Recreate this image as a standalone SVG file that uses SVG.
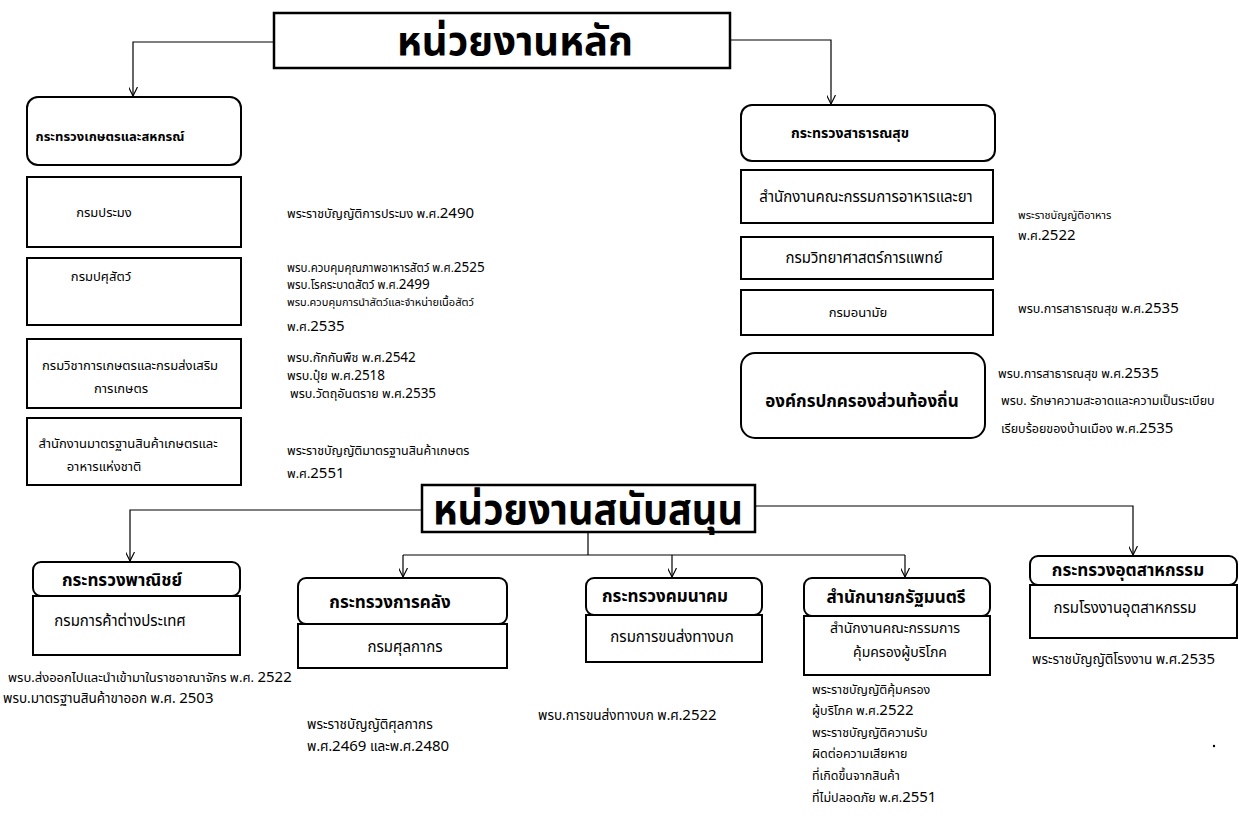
<svg xmlns="http://www.w3.org/2000/svg" width="1239" height="820" viewBox="0 0 1239 820">
<style>
text{font-family:"Noto Sans Thai","Noto Sans","DejaVu Sans",sans-serif;fill:#000}
.box{fill:#fff;stroke:#000;stroke-width:2}
.tb{fill:#fff;stroke:#000;stroke-width:2.5}
.ttl{font-size:42px;font-weight:bold;text-anchor:middle}
.hd{font-size:13px;font-weight:bold;text-anchor:middle}
.hb{font-size:17px;font-weight:bold;text-anchor:middle}
.t{font-size:13px;text-anchor:middle}
.tl{font-size:15px;text-anchor:middle}
.law{font-size:12.5px}
.n{font-size:15px}
.s{font-size:13.5px}
.conn{fill:none;stroke:#000;stroke-width:1.2}
</style>
<defs>
<marker id="arr" viewBox="0 0 10 10" refX="10" refY="5" markerWidth="10" markerHeight="9" orient="auto" markerUnits="userSpaceOnUse">
<path d="M0,0 L10,5 L0,10" fill="none" stroke="#000" stroke-width="1.3"/>
</marker>
</defs>

<g id="connectors">
<path class="conn" d="M274,42 H133 V96" marker-end="url(#arr)"/>
<path class="conn" d="M730,40 H831 V104" marker-end="url(#arr)"/>
<path class="conn" d="M422,510 H130 V561" marker-end="url(#arr)"/>
<path class="conn" d="M588,532 V555"/>
<path class="conn" d="M403,555 H905"/>
<path class="conn" d="M403,555 V577" marker-end="url(#arr)"/>
<path class="conn" d="M672,555 V577" marker-end="url(#arr)"/>
<path class="conn" d="M905,555 V577" marker-end="url(#arr)"/>
<path class="conn" d="M755,506 H1133 V555" marker-end="url(#arr)"/>
</g>

<g id="main-title">
<rect class="tb" x="274" y="13" width="456" height="55"/>
<text class="ttl" x="515" y="55" style="font-size:40px">หน่วยงานหลัก</text>
</g>

<g id="moac">
<rect class="box" x="27" y="97" width="214" height="68" rx="11"/>
<text class="hd" x="110" y="141">กระทรวงเกษตรและสหกรณ์</text>
</g>
<g id="fisheries">
<rect class="box" x="27" y="177" width="214" height="70"/>
<text class="t" x="104" y="217">กรมประมง</text>
<text class="law" x="287" y="218">พระราชบัญญัติการประมง พ.ศ.<tspan class="n">2490</tspan></text>
</g>
<g id="livestock">
<rect class="box" x="27" y="258" width="214" height="67"/>
<text class="t" x="101" y="281">กรมปศุสัตว์</text>
<text class="law" x="287" y="272" style="font-size:11.5px">พรบ.ควบคุมคุณภาพอาหารสัตว์ พ.ศ.<tspan class="s">2525</tspan></text>
<text class="law" x="287" y="289" style="font-size:11.5px">พรบ.โรคระบาดสัตว์ พ.ศ.<tspan class="s">2499</tspan></text>
<text class="law" x="287" y="306" style="font-size:11px">พรบ.ควบคุมการนำสัตว์และจำหน่ายเนื้อสัตว์</text>
<text class="law" x="287" y="331">พ.ศ.<tspan class="n">2535</tspan></text>
</g>
<g id="agri">
<rect class="box" x="27" y="339" width="214" height="69"/>
<text class="t" x="130" y="370">กรมวิชาการเกษตรและกรมส่งเสริม</text>
<text class="t" x="121" y="393">การเกษตร</text>
<text class="law" x="287" y="362">พรบ.กักกันพืช พ.ศ.<tspan class="s">2542</tspan></text>
<text class="law" x="287" y="380">พรบ.ปุ๋ย พ.ศ.<tspan class="s">2518</tspan></text>
<text class="law" x="290" y="398">พรบ.วัตถุอันตราย พ.ศ.<tspan class="s">2535</tspan></text>
</g>
<g id="acfs">
<rect class="box" x="27" y="418" width="214" height="67"/>
<text class="t" x="128" y="448">สำนักงานมาตรฐานสินค้าเกษตรและ</text>
<text class="t" x="104" y="471">อาหารแห่งชาติ</text>
<text class="law" x="287" y="455">พระราชบัญญัติมาตรฐานสินค้าเกษตร</text>
<text class="law" x="287" y="478">พ.ศ.<tspan class="n">2551</tspan></text>
</g>

<g id="moph">
<rect class="box" x="741" y="105" width="254" height="56" rx="11"/>
<text class="hd" style="font-size:14px" x="850" y="138">กระทรวงสาธารณสุข</text>
</g>
<g id="fda">
<rect class="box" x="741" y="170" width="252" height="53"/>
<text class="tl" x="866" y="202">สำนักงานคณะกรรมการอาหารและยา</text>
<text class="law" x="1018" y="219" style="font-size:11px">พระราชบัญญัติอาหาร</text>
<text class="law" x="1018" y="240">พ.ศ.<tspan class="n">2522</tspan></text>
</g>
<g id="dmsc">
<rect class="box" x="741" y="237" width="252" height="42"/>
<text class="tl" x="864" y="263">กรมวิทยาศาสตร์การแพทย์</text>
</g>
<g id="anamai">
<rect class="box" x="741" y="290" width="252" height="45"/>
<text class="t" x="858" y="317">กรมอนามัย</text>
<text class="law" x="1018" y="313">พรบ.การสาธารณสุข พ.ศ.<tspan class="n">2535</tspan></text>
</g>
<g id="local">
<rect class="box" x="741" y="353" width="244" height="85" rx="14"/>
<text class="hb" x="862" y="407">องค์กรปกครองส่วนท้องถิ่น</text>
<text class="law" x="998" y="378">พรบ.การสาธารณสุข พ.ศ.<tspan class="n">2535</tspan></text>
<text class="law" x="1001" y="405">พรบ. รักษาความสะอาดและความเป็นระเบียบ</text>
<text class="law" x="1001" y="433">เรียบร้อยของบ้านเมือง พ.ศ.<tspan class="n">2535</tspan></text>
</g>

<g id="support-title">
<rect class="tb" x="422" y="485" width="333" height="47"/>
<text class="ttl" x="588" y="524" textLength="310" lengthAdjust="spacingAndGlyphs">หน่วยงานสนับสนุน</text>
</g>

<g id="moc">
<rect class="box" x="33" y="562" width="207" height="34" rx="8"/>
<rect class="box" x="33" y="596" width="207" height="59"/>
<text class="hb" x="122" y="586">กระทรวงพาณิชย์</text>
<text class="tl" x="120" y="626">กรมการค้าต่างประเทศ</text>
<text class="law" x="8" y="682" style="font-size:13px">พรบ.ส่งออกไปและนำเข้ามาในราชอาณาจักร พ.ศ. <tspan class="n">2522</tspan></text>
<text class="law" x="3" y="703" style="font-size:13.5px">พรบ.มาตรฐานสินค้าขาออก พ.ศ. <tspan class="n">2503</tspan></text>
</g>
<g id="mof">
<rect class="box" x="298" y="578" width="209" height="46" rx="8"/>
<rect class="box" x="298" y="624" width="209" height="44"/>
<text class="hb" x="390" y="608">กระทรวงการคลัง</text>
<text class="tl" x="405" y="652">กรมศุลกากร</text>
<text class="law" x="307" y="729" style="font-size:13.5px">พระราชบัญญัติศุลกากร</text>
<text class="law" x="307" y="751" style="font-size:13.5px">พ.ศ.<tspan class="n">2469</tspan> และพ.ศ.<tspan class="n">2480</tspan></text>
</g>
<g id="mot">
<rect class="box" x="586" y="578" width="176" height="37" rx="8"/>
<rect class="box" x="586" y="615" width="176" height="47"/>
<text class="hb" x="665" y="602">กระทรวงคมนาคม</text>
<text class="tl" x="672" y="642">กรมการขนส่งทางบก</text>
<text class="law" x="538" y="720" style="font-size:13.5px">พรบ.การขนส่งทางบก พ.ศ.<tspan class="n">2522</tspan></text>
</g>
<g id="opm">
<rect class="box" x="804" y="578" width="186" height="38" rx="8"/>
<rect class="box" x="804" y="616" width="186" height="59"/>
<text class="hb" x="896" y="603">สำนักนายกรัฐมนตรี</text>
<text class="tl" x="895" y="633" style="font-size:14px">สำนักงานคณะกรรมการ</text>
<text class="tl" x="900" y="657" style="font-size:14px">คุ้มครองผู้บริโภค</text>
<text class="law" x="812" y="694">พระราชบัญญัติคุ้มครอง</text>
<text class="law" x="812" y="715">ผู้บริโภค พ.ศ.<tspan class="n">2522</tspan></text>
<text class="law" x="812" y="737">พระราชบัญญัติความรับ</text>
<text class="law" x="812" y="758">ผิดต่อความเสียหาย</text>
<text class="law" x="812" y="780">ที่เกิดขึ้นจากสินค้า</text>
<text class="law" x="812" y="802">ที่ไม่ปลอดภัย พ.ศ.<tspan class="n">2551</tspan></text>
</g>
<g id="moi">
<rect class="box" x="1030" y="556" width="207" height="29" rx="8"/>
<rect class="box" x="1030" y="585" width="207" height="53"/>
<text class="hb" x="1128" y="576">กระทรวงอุตสาหกรรม</text>
<text class="tl" x="1125" y="613">กรมโรงงานอุตสาหกรรม</text>
<text class="law" x="1032" y="664" style="font-size:13.5px">พระราชบัญญัติโรงงาน พ.ศ.<tspan class="n">2535</tspan></text>
</g>
<circle cx="1214" cy="746" r="1.2" fill="#000"/>
</svg>
